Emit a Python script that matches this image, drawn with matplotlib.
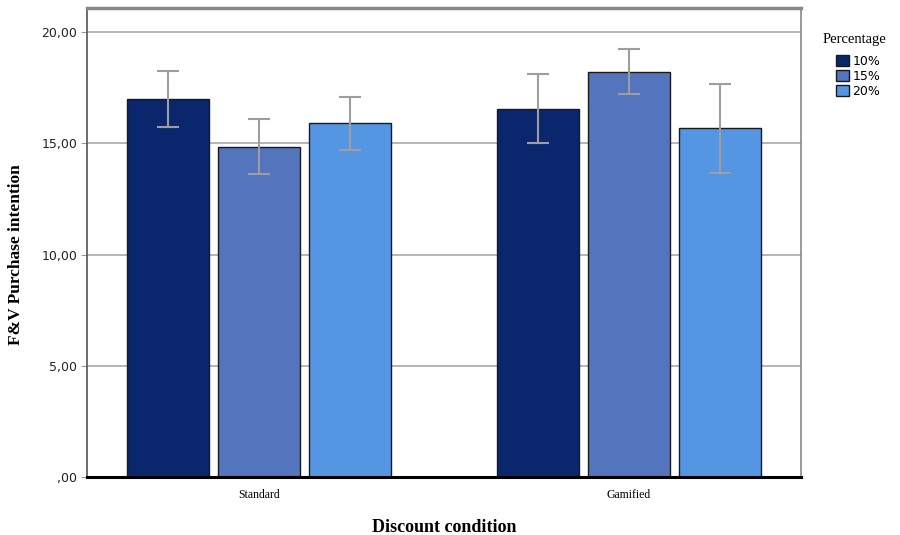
import numpy as np
import matplotlib.pyplot as plt

conditions = ['Standard', 'Gamified']
percentages = ['10%', '15%', '20%']
means = {
    '10%': [17.0, 16.54],
    '15%': [14.83, 18.20],
    '20%': [15.91, 15.69],
}
err_low = {
    '10%': [15.73, 15.01],
    '15%': [13.62, 17.21],
    '20%': [14.70, 13.66],
}
err_high = {
    '10%': [18.25, 18.11],
    '15%': [16.09, 19.24],
    '20%': [17.08, 17.66],
}
colors = ['#0a266c', '#5474bd', '#5596e3']
yticks = [0, 5, 10, 15, 20]
ytick_labels = [',00', '5,00', '10,00', '15,00', '20,00']

serif = 'Liberation Serif'

fig = plt.figure(figsize=(9, 5.35), dpi=100)
ax = fig.add_axes([87/900, 58/535, 714/900, 469/535])

x = np.arange(len(conditions))
width = 0.2216
step = 0.246
for i, p in enumerate(percentages):
    pos = x + (i - 1)*step
    m = np.array(means[p])
    lo = m - np.array(err_low[p])
    hi = np.array(err_high[p]) - m
    ax.bar(pos, m, width, color=colors[i], edgecolor='#1a1a1a', linewidth=1,
           label=p, zorder=2)
    ax.errorbar(pos, m, yerr=[lo, hi], fmt='none', ecolor='#9e9e9e',
                elinewidth=1.5, capsize=8, capthick=1.5, zorder=3)

ax.set_xlim(-0.4649, 1.4649)
ax.set_ylim(0, 21.08)
ax.set_yticks(yticks)
ax.set_yticklabels(ytick_labels, fontsize=9, color='#222222')
ax.set_xticks(x)
ax.set_xticklabels(conditions, fontsize=8.5, family=serif)
ax.tick_params(axis='x', length=0, pad=9)
ax.tick_params(axis='y', length=4, color='#999999', pad=3)
ax.yaxis.grid(True, color='#b0b0b0', linewidth=1.3, zorder=0)
ax.set_axisbelow(True)

for s in ['top', 'right']:
    ax.spines[s].set_color('#888888')
ax.spines['top'].set_linewidth(2.5)
ax.spines['right'].set_linewidth(1.2)
ax.spines['left'].set_color('#555555')
ax.spines['left'].set_linewidth(1.2)
ax.spines['bottom'].set_color('black')
ax.spines['bottom'].set_linewidth(2.2)

ax.set_xlabel('Discount condition', fontsize=13, family=serif,
              fontweight='bold', va='center')
ax.xaxis.set_label_coords(0.5, -0.108)
ax.set_ylabel('F&V Purchase intention', fontsize=12.5, family=serif,
              fontweight='bold', va='center')
ax.yaxis.set_label_coords(-0.0994, 0.475)

fig.text(823/900, 1 - 40/535, 'Percentage', family=serif, fontsize=10.5,
         va='center', ha='left')
fig.legend(loc='upper left', bbox_to_anchor=(836/900, 1 - 55/535),
           frameon=False, fontsize=9,
           handlelength=1.0, handleheight=1.0, handletextpad=0.3,
           labelspacing=0.15, borderaxespad=0, borderpad=0)

fig.savefig('out.png', dpi=100)
